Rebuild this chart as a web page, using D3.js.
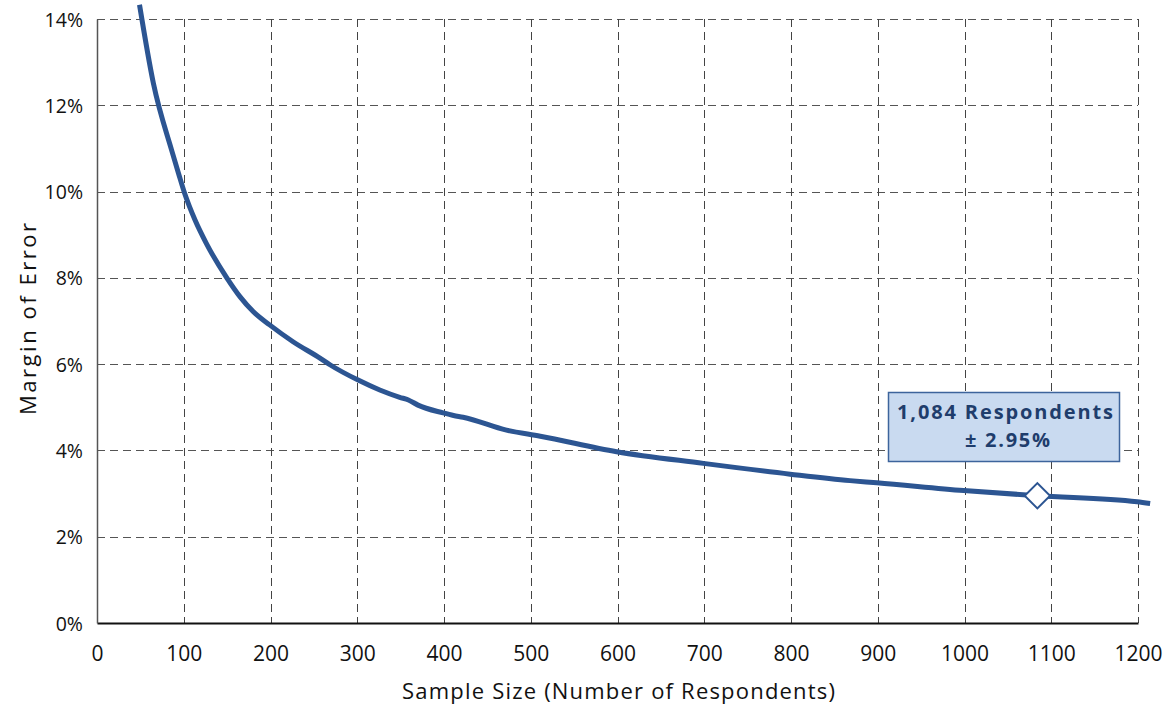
<!DOCTYPE html>
<html>
<head>
<meta charset="utf-8">
<script src="https://cdn.jsdelivr.net/npm/d3@7"></script>
<style>
  html, body { margin: 0; padding: 0; background: #fff; }
  svg { display: block; font-family: "Open Sans", sans-serif; }
</style>
</head>
<body>
<svg id="chart" width="1170" height="705"></svg>
<script>
// Data
const sampleSizes = [49, 65, 86, 94, 101, 113, 126, 150, 165, 180, 199, 226, 257, 269, 301, 326, 349, 359, 370, 399, 411, 422, 472, 511, 599, 699, 799, 868, 899, 999, 1084, 1199, 1214];
const marginPct   = [14.33, 12.51, 10.96, 10.42, 9.96, 9.34, 8.80, 7.99, 7.56, 7.22, 6.91, 6.52, 6.14, 5.98, 5.63, 5.40, 5.23, 5.17, 5.05, 4.87, 4.81, 4.77, 4.47, 4.33, 3.97, 3.70, 3.45, 3.30, 3.25, 3.07, 2.95, 2.81, 2.77];
const xTicks = [0, 100, 200, 300, 400, 500, 600, 700, 800, 900, 1000, 1100, 1200];
const yTicks = [0, 2, 4, 6, 8, 10, 12, 14];
const highlightN = 1084;
const highlightPct = 2.95;
const calloutLines = ["1,084 Respondents", "\u00B1 2.95%"];
const xTitle = "Sample Size (Number of Respondents)";
const yTitle = "Margin of Error";

const svg = d3.select("#chart");
const pLeft = 97, pTop = 19, pRight = 1138, pBottom = 623;

const x = d3.scaleLinear().domain([0, 1200]).range([pLeft, pRight]);
const y = d3.scaleLinear().domain([0, 14]).range([pBottom, pTop]);

const grid = svg.append("g").attr("shape-rendering", "crispEdges");
// horizontal grid
grid.selectAll("line.h").data(yTicks.filter(d => d > 0)).enter().append("line")
  .attr("x1", pLeft).attr("x2", pRight)
  .attr("y1", d => Math.round(y(d)) + 0.5).attr("y2", d => Math.round(y(d)) + 0.5)
  .attr("stroke", "#555").attr("stroke-width", 1).attr("stroke-dasharray", "8,5");
// vertical grid
grid.selectAll("line.v").data(xTicks.filter(d => d > 0)).enter().append("line")
  .attr("x1", d => Math.round(x(d)) + 0.5).attr("x2", d => Math.round(x(d)) + 0.5)
  .attr("y1", pTop).attr("y2", pBottom)
  .attr("stroke", "#444").attr("stroke-width", 1).attr("stroke-dasharray", "8,5");

// axes
const xAxis = d3.axisBottom(x).tickValues(xTicks).tickSize(0).tickPadding(23).tickFormat(d3.format("d"));
const yAxis = d3.axisLeft(y).tickValues(yTicks).tickSize(0).tickPadding(14).tickFormat(d => d + "%");

const gx = svg.append("g").attr("transform", `translate(0,${pBottom})`).call(xAxis);
gx.select(".domain").attr("stroke", "#111").attr("stroke-width", 2);
gx.selectAll("text").attr("font-size", 21).attr("fill", "#111").attr("font-family", "Open Sans, sans-serif");

const gy = svg.append("g").attr("transform", `translate(${pLeft},0)`).call(yAxis);
gy.select(".domain").attr("stroke", "#555").attr("stroke-width", 1.5);
gy.selectAll("text").attr("font-size", 19.5).attr("fill", "#111").attr("font-family", "Open Sans, sans-serif").attr("dy", "0.36em");

// titles
svg.append("text").attr("x", 402).attr("y", 699)
  .attr("font-size", 22).attr("fill", "#111")
  .attr("textLength", 433).attr("lengthAdjust", "spacing").text(xTitle);
svg.append("text").attr("transform", "translate(36,415) rotate(-90)")
  .attr("font-size", 22).attr("fill", "#111")
  .attr("textLength", 192).attr("lengthAdjust", "spacing").text(yTitle);

// curve
const data = sampleSizes.map((n, i) => ({ n, v: marginPct[i] }));
const line = d3.line().x(d => x(d.n)).y(d => y(d.v)).curve(d3.curveMonotoneX);
svg.append("path").datum(data).attr("d", line)
  .attr("fill", "none").attr("stroke", "#2c5592").attr("stroke-width", 5)
  .attr("stroke-linejoin", "round");

// highlight marker (diamond)
const hx = x(highlightN), hy = y(highlightPct);
svg.append("path")
  .attr("d", d3.symbol().type(d3.symbolSquare).size(320)())
  .attr("transform", `translate(${hx},${hy}) rotate(45)`)
  .attr("fill", "#fff").attr("stroke", "#2c5592").attr("stroke-width", 2);

// callout box
const bx = 888, by = 392, bw = 231, bh = 69;
svg.append("rect").attr("x", bx + 0.5).attr("y", by + 0.5).attr("width", bw).attr("height", bh)
  .attr("fill", "#c9daf0").attr("stroke", "#3d649c").attr("stroke-width", 1.5);
svg.append("text").attr("x", 897).attr("y", 419)
  .attr("font-size", 20).attr("font-weight", "bold").attr("fill", "#1f3d6c")
  .attr("textLength", 216).attr("lengthAdjust", "spacing")
  .text(calloutLines[0]);
svg.append("text").attr("x", 965).attr("y", 447)
  .attr("font-size", 20).attr("font-weight", "bold").attr("fill", "#1f3d6c")
  .attr("textLength", 85).attr("lengthAdjust", "spacing")
  .text(calloutLines[1]);
</script>
</body>
</html>
